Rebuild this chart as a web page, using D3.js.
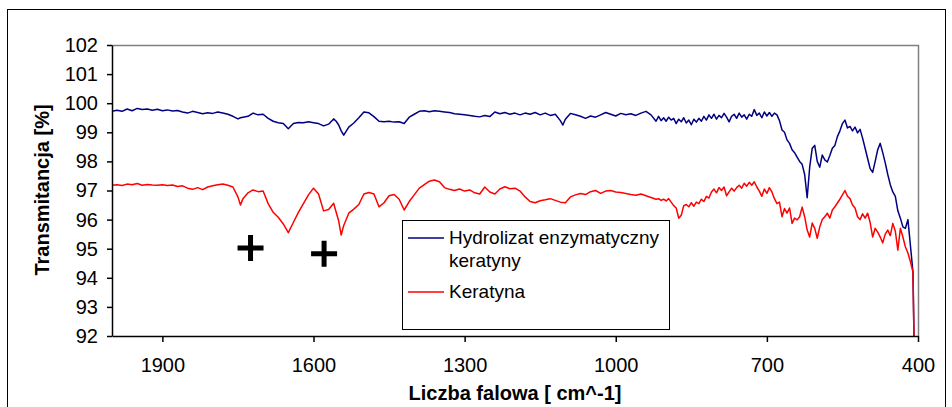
<!DOCTYPE html>
<html>
<head>
<meta charset="utf-8">
<script src="https://cdn.jsdelivr.net/npm/d3@7"></script>
<style>
  body { margin: 0; background: #fff; }
  svg { display: block; font-family: "Liberation Sans", Arial, sans-serif; }
</style>
</head>
<body>
<script>
// wavenumbers [cm^-1]
var wavenumbers = [
  2000, 1990, 1980, 1970, 1960, 1950, 1940, 1930, 1920, 1910,
  1900, 1890, 1880, 1870, 1860, 1850, 1840, 1830, 1820, 1810,
  1800, 1790, 1780, 1770, 1760, 1750, 1745, 1740, 1730, 1720,
  1710, 1700, 1690, 1680, 1670, 1660, 1650, 1640, 1630, 1620,
  1610, 1600, 1590, 1580, 1570, 1560, 1555, 1550, 1545, 1540,
  1530, 1520, 1510, 1500, 1490, 1480, 1470, 1460, 1450, 1440,
  1430, 1420, 1410, 1400, 1390, 1380, 1370, 1360, 1350, 1340,
  1330, 1320, 1310, 1300, 1290, 1280, 1270, 1260, 1250, 1240,
  1230, 1220, 1210, 1200, 1190, 1180, 1170, 1160, 1150, 1140,
  1130, 1120, 1110, 1105, 1100, 1090, 1080, 1070, 1060, 1050,
  1040, 1030, 1020, 1010, 1000, 990, 980, 970, 960, 950,
  940, 930, 920, 915, 910, 905, 900, 895, 890, 885,
  880, 875, 870, 865, 860, 855, 850, 845, 840, 835,
  830, 825, 820, 815, 810, 805, 800, 795, 790, 785,
  780, 775, 770, 765, 760, 755, 750, 745, 740, 735,
  730, 725, 720, 715, 710, 705, 700, 695, 690, 685,
  680, 675, 670, 665, 660, 655, 650, 645, 640, 635,
  630, 625, 620, 615, 610, 605, 600, 595, 590, 585,
  580, 575, 570, 565, 560, 555, 550, 545, 540, 535,
  530, 525, 520, 515, 510, 505, 500, 495, 490, 485,
  480, 475, 470, 465, 460, 455, 450, 445, 440, 435,
  430, 425, 420, 415, 410, 408
];

// Hydrolizat enzymatyczny keratyny [%]
var hydrolizat = [
  99.72, 99.76, 99.72, 99.80, 99.74, 99.82, 99.78, 99.80, 99.76, 99.79,
  99.74, 99.77, 99.73, 99.75, 99.70, 99.66, 99.72, 99.68, 99.64, 99.67,
  99.65, 99.70, 99.66, 99.62, 99.55, 99.46, 99.50, 99.52, 99.55, 99.66,
  99.60, 99.62, 99.48, 99.38, 99.33, 99.30, 99.12, 99.30, 99.34, 99.33,
  99.36, 99.33, 99.30, 99.22, 99.28, 99.46, 99.38, 99.25, 99.05, 98.90,
  99.18, 99.32, 99.50, 99.70, 99.67, 99.54, 99.38, 99.36, 99.38, 99.35,
  99.36, 99.30, 99.52, 99.62, 99.72, 99.74, 99.71, 99.74, 99.72, 99.70,
  99.68, 99.64, 99.62, 99.60, 99.58, 99.55, 99.53, 99.58, 99.54, 99.70,
  99.64, 99.68, 99.62, 99.66, 99.60, 99.66, 99.62, 99.68, 99.60, 99.66,
  99.58, 99.62, 99.40, 99.25, 99.45, 99.65, 99.60, 99.55, 99.48, 99.56,
  99.52, 99.60, 99.68, 99.62, 99.56, 99.65, 99.60, 99.64, 99.58, 99.66,
  99.72, 99.60, 99.38, 99.55, 99.40, 99.50, 99.38, 99.52, 99.42, 99.48,
  99.30, 99.45, 99.36, 99.50, 99.32, 99.42, 99.26, 99.45, 99.35, 99.48,
  99.38, 99.55, 99.42, 99.60, 99.48, 99.62, 99.45, 99.58, 99.50, 99.65,
  99.52, 99.36, 99.55, 99.62, 99.48, 99.66, 99.52, 99.60, 99.45, 99.62,
  99.55, 99.78, 99.58, 99.66, 99.50, 99.70, 99.56, 99.68, 99.55, 99.66,
  99.60, 99.40, 99.08, 99.00, 98.74, 98.62, 98.40, 98.30, 98.15, 98.00,
  97.90, 97.55, 96.75, 97.80, 98.45, 98.55, 98.00, 97.80, 98.22, 98.05,
  97.98, 98.20, 98.45, 98.55, 98.85, 99.05, 99.30, 99.42, 99.15, 99.20,
  99.05, 99.18, 98.98, 99.10, 98.80, 98.45, 98.10, 97.75, 97.62, 98.00,
  98.40, 98.62, 98.30, 97.95, 97.55, 97.20, 96.95, 96.80, 96.30, 96.05,
  95.75, 95.70, 96.00, 95.10, 94.20, 92.00
];

// Keratyna [%]
var keratyna = [
  97.18, 97.20, 97.17, 97.22, 97.20, 97.24, 97.18, 97.21, 97.19, 97.18,
  97.20, 97.17, 97.19, 97.14, 97.16, 97.08, 97.04, 97.10, 97.03, 97.12,
  97.16, 97.20, 97.22, 97.18, 97.12, 96.78, 96.50, 96.72, 96.92, 97.02,
  96.96, 96.98, 96.55, 96.25, 96.08, 95.85, 95.55, 95.90, 96.25, 96.55,
  96.85, 97.08, 96.88, 96.30, 96.35, 96.56, 96.25, 95.95, 95.47, 95.80,
  96.22, 96.36, 96.52, 96.88, 96.93, 96.88, 96.44, 96.58, 96.82, 96.86,
  96.70, 96.33, 96.62, 96.85, 97.08, 97.20, 97.32, 97.36, 97.30, 97.10,
  97.04, 97.00, 97.05, 96.98, 97.02, 96.92, 96.88, 97.12, 96.95, 96.88,
  97.05, 97.13, 97.06, 97.08, 96.98, 96.78, 96.62, 96.58, 96.65, 96.68,
  96.72, 96.66, 96.60, 96.59, 96.58, 96.78, 96.85, 96.90, 96.86, 96.96,
  97.00, 96.90, 96.98, 97.00, 96.95, 96.93, 96.90, 96.86, 96.84, 96.88,
  96.82, 96.76, 96.70, 96.72, 96.66, 96.70, 96.64, 96.72, 96.60, 96.48,
  96.40, 96.05, 96.15, 96.48, 96.52, 96.44, 96.58, 96.46, 96.60, 96.55,
  96.70, 96.62, 96.80, 96.74, 96.95, 97.05, 96.92, 97.10, 97.00, 97.12,
  96.82, 96.95, 97.08, 96.98, 97.10, 97.18, 97.08, 97.25, 97.15, 97.28,
  97.18, 97.30, 97.12, 96.98, 96.80, 97.05, 96.90, 97.10, 96.95, 96.72,
  96.55, 96.60, 96.10, 96.38, 96.22, 96.40, 95.87, 96.05, 95.99, 96.10,
  96.43, 96.10, 95.64, 95.40, 95.88, 95.70, 95.36, 95.75, 96.00, 96.10,
  96.22, 96.05, 96.33, 96.44, 96.57, 96.70, 96.85, 97.00, 96.80, 96.72,
  96.50, 96.40, 96.10, 96.00, 96.20, 96.05, 96.22, 95.90, 95.40, 95.70,
  95.57, 95.40, 95.20, 95.50, 95.64, 95.45, 95.87, 95.60, 94.95, 95.70,
  95.40, 95.06, 94.85, 94.55, 94.20, 92.00
];

var seriesNames = [["Hydrolizat enzymatyczny", "keratyny"], ["Keratyna"]];
var seriesColors = ["#000080", "#ff0000"];

var xTicks = [1900, 1600, 1300, 1000, 700, 400];
var yTicks = [92, 93, 94, 95, 96, 97, 98, 99, 100, 101, 102];

// "+" annotations below the keratin bands
var markers = [
  { w: 1725, t: 95.02 },
  { w: 1579, t: 94.83 }
];

var width = 952, height = 407;
var plot = { left: 112, right: 918, top: 45, bottom: 336 };
var fontSize = 20;

var svg = d3.select("body").append("svg")
    .attr("width", width)
    .attr("height", height);

svg.append("rect")
    .attr("width", width)
    .attr("height", height)
    .attr("fill", "#fff");

// outer frame of the chart object
svg.append("rect")
    .attr("x", 7.5)
    .attr("y", 9.5)
    .attr("width", 938)
    .attr("height", 420)
    .attr("fill", "none")
    .attr("stroke", "#000")
    .attr("stroke-width", 1);

var x = d3.scaleLinear()
    .domain([2000, 400])
    .range([plot.left, plot.right]);

var y = d3.scaleLinear()
    .domain([92, 102])
    .range([plot.bottom, plot.top]);

// plot area border (top and right in grey)
svg.append("path")
    .attr("d", "M" + plot.left + "," + (plot.top + 0.5) + "H" + (plot.right + 0.5) + "V" + plot.bottom)
    .attr("fill", "none")
    .attr("stroke", "#808080")
    .attr("stroke-width", 1.5);

svg.append("clipPath")
    .attr("id", "clip")
    .append("rect")
    .attr("x", plot.left)
    .attr("y", plot.top)
    .attr("width", plot.right - plot.left)
    .attr("height", plot.bottom - plot.top + 1);

var series = [hydrolizat, keratyna];

var line = d3.line()
    .x(function (d) { return x(d[0]); })
    .y(function (d) { return y(d[1]); });

var lines = svg.append("g").attr("clip-path", "url(#clip)");
series.forEach(function (values, i) {
    var pts = wavenumbers.map(function (w, j) { return [w, values[j]]; });
    lines.append("path")
        .datum(pts)
        .attr("d", line)
        .attr("fill", "none")
        .attr("stroke", seriesColors[i])
        .attr("stroke-width", 1.5)
        .attr("stroke-linejoin", "round");
});

// axes
var yAxis = svg.append("g")
    .attr("transform", "translate(" + plot.left + ",0)")
    .call(d3.axisLeft(y).tickValues(yTicks).tickFormat(d3.format("d"))
        .tickSize(5).tickSizeOuter(0).tickPadding(9));

var xAxis = svg.append("g")
    .attr("transform", "translate(0," + plot.bottom + ")")
    .call(d3.axisBottom(x).tickValues(xTicks).tickFormat(d3.format("d"))
        .tickSize(6).tickSizeOuter(0).tickPadding(16));

[xAxis, yAxis].forEach(function (ax) {
    ax.selectAll("path, line").attr("stroke", "#000").attr("stroke-width", 1.5);
    ax.selectAll("text")
        .attr("fill", "#000")
        .attr("font-size", fontSize)
        .attr("font-family", "Liberation Sans, Arial, sans-serif");
});

// axis titles
svg.append("text")
    .attr("x", (plot.left + plot.right) / 2)
    .attr("y", 400)
    .attr("text-anchor", "middle")
    .attr("font-size", fontSize)
    .attr("font-weight", "bold")
    .text("Liczba falowa [ cm^-1]");

svg.append("text")
    .attr("transform", "translate(49,190) rotate(-90)")
    .attr("text-anchor", "middle")
    .attr("font-size", fontSize)
    .attr("font-weight", "bold")
    .text("Transmitancja [%]");

// "+" marks
var plusSize = 13;
markers.forEach(function (m) {
    var cx = x(m.w), cy = y(m.t);
    svg.append("path")
        .attr("d", "M" + (cx - plusSize) + "," + cy + "H" + (cx + plusSize) +
                   "M" + cx + "," + (cy - plusSize) + "V" + (cy + plusSize))
        .attr("stroke", "#000")
        .attr("stroke-width", 5)
        .attr("fill", "none");
});

// legend
var legend = svg.append("g").attr("transform", "translate(402,220)");
legend.append("rect")
    .attr("x", 0.5)
    .attr("y", 0.5)
    .attr("width", 267)
    .attr("height", 109)
    .attr("fill", "#fff")
    .attr("stroke", "#000")
    .attr("stroke-width", 1);

var entryY = [18, 72];
seriesNames.forEach(function (lines, i) {
    legend.append("line")
        .attr("x1", 6)
        .attr("x2", 42)
        .attr("y1", entryY[i])
        .attr("y2", entryY[i])
        .attr("stroke", seriesColors[i])
        .attr("stroke-width", 1.5);
    lines.forEach(function (t, k) {
        legend.append("text")
            .attr("x", 47)
            .attr("y", entryY[i] + 6 + k * 23)
            .attr("font-size", 19)
            .text(t);
    });
});
</script>
</body>
</html>
